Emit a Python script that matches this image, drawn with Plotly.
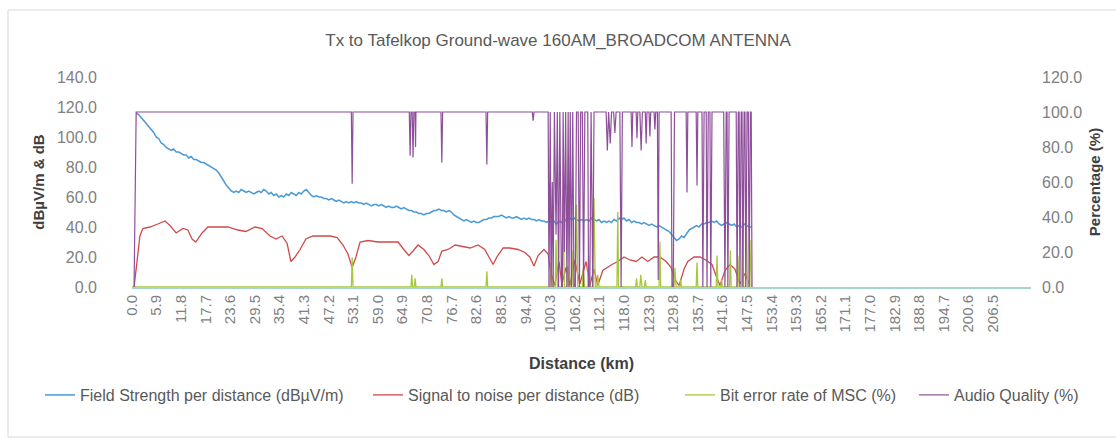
import plotly.graph_objects as go

# ---- Field strength (dBuV/m) along the route ----
fs_km = [1.0, 1.6, 2.2, 2.8, 3.4, 4.0, 4.6, 5.2, 5.8, 6.4, 7.0, 7.6, 8.2, 8.8, 9.4, 10.0, 10.6, 11.2, 11.8, 12.4,
         13.0, 13.6, 14.2, 14.8, 15.4, 16.0, 16.6, 17.2, 17.8, 18.4, 19.0, 19.6, 20.2, 20.8, 21.4, 22.0, 22.6, 23.2,
         23.8, 24.4, 25.0, 25.6, 26.2, 26.8, 27.4, 28.0, 28.6, 29.2, 29.8, 30.4, 31.0, 31.6, 32.2, 32.8, 33.4, 34.0,
         34.6, 35.2, 35.8, 36.4, 37.0, 37.6, 38.2, 38.8, 39.4, 40.0, 40.6, 41.2, 41.8, 42.4, 43.0, 43.6, 44.2, 44.8,
         45.4, 46.0, 46.6, 47.2, 47.8, 48.4, 49.0, 49.6, 50.2, 50.8, 51.4, 52.0, 52.6, 53.2, 53.8, 54.4, 55.0, 55.6,
         56.2, 56.8, 57.4, 58.0, 58.6, 59.2, 59.8, 60.4, 61.0, 61.6, 62.2, 62.8, 63.4, 64.0, 64.6, 65.2, 65.8, 66.4,
         67.0, 67.6, 68.2, 68.8, 69.4, 70.0, 70.6, 71.2, 71.8, 72.4, 73.0, 73.6, 74.2, 74.8, 75.4, 76.0, 76.6, 77.2,
         77.8, 78.4, 79.0, 79.6, 80.2, 80.8, 81.4, 82.0, 82.6, 83.2, 83.8, 84.4, 85.0, 85.6, 86.2, 86.8, 87.4, 88.0,
         88.6, 89.2, 89.8, 90.4, 91.0, 91.6, 92.2, 92.8, 93.4, 94.0, 94.6, 95.2, 95.8, 96.4, 97.0, 97.6, 98.2, 98.8,
         99.4, 100.0, 100.6, 101.2, 101.8, 102.4, 103.0, 103.6, 104.2, 104.8, 105.4, 106.0, 106.6, 107.2, 107.8,
         108.4, 109.0, 109.6, 110.2, 110.8, 111.4, 112.0, 112.6, 113.2, 113.8, 114.4, 115.0, 115.6, 116.2, 116.8,
         117.4, 118.0, 118.6, 119.2, 119.8, 120.4, 121.0, 121.6, 122.2, 122.8, 123.4, 124.0, 124.6, 125.2, 125.8,
         126.4, 127.0, 127.6, 128.2, 128.8, 129.4, 130.0, 130.6, 131.2, 131.8, 132.4, 133.0, 133.6, 134.2, 134.8,
         135.4, 136.0, 136.6, 137.2, 137.8, 138.4, 139.0, 139.6, 140.2, 140.8, 141.4, 142.0, 142.6, 143.2, 143.8,
         144.4, 145.0, 145.6, 146.2, 146.8, 147.4, 148.0, 148.6]
fs_val = [116, 115, 113, 111, 109, 107, 105, 103, 100, 99, 96, 95, 93, 92, 91, 92, 90, 90, 89, 88,
          88, 86, 87, 85, 85, 84, 83, 83, 82, 81, 80, 79, 78, 76, 73, 70, 68, 66,
          64, 63, 64, 63, 65, 64, 63, 64, 63, 62, 63, 64, 63, 65, 64, 62, 63, 61,
          62, 60, 61, 60, 62, 61, 63, 62, 61, 63, 62, 64, 65, 63, 61, 60, 61, 60,
          60, 59, 59, 58, 59, 58, 57, 58, 57, 56, 57, 56, 57, 56, 57, 56, 56, 55,
          56, 55, 54, 55, 55, 54, 55, 54, 53, 54, 53, 53, 54, 53, 52, 53, 52, 51,
          51, 50, 50, 49, 49, 48, 49, 49, 50, 51, 51, 52, 51, 51, 50, 51, 50, 48,
          47, 46, 45, 44, 45, 44, 43, 44, 43, 43, 44, 45, 45, 46, 46, 47, 47, 47,
          48, 47, 46, 47, 46, 46, 47, 46, 45, 46, 45, 46, 45, 45, 44, 45, 44, 44,
          43, 44, 43, 44, 42, 44, 43, 45, 44, 46, 45, 46, 45, 44, 45,
          44, 45, 44, 46, 45, 44, 45, 43, 44, 43, 44, 43, 45, 44, 46,
          45, 46, 44, 45, 43, 44, 43, 43, 42, 43, 42, 41, 42, 41, 40,
          41, 40, 39, 38, 37, 35, 33, 31, 32, 34, 33, 36, 38, 39, 40,
          41, 40, 42, 42, 43, 43, 44, 43, 44, 42, 41, 42, 43, 42, 41,
          42, 40, 41, 40, 42, 41, 40, 40]

# ---- Signal to noise (dB) ----
snr_km = [0.5, 1.2, 1.9, 2.6, 4.3, 6.2, 7.9, 9.1, 10.6, 12.2, 13.4, 14.4, 15.3, 16.8, 18.2, 20.6, 23.0, 25.4,
          27.3, 29.5, 31.2, 33.1, 34.5, 36.0, 37.2, 38.1, 39.1, 40.3, 41.7, 43.4, 45.6, 47.5, 49.2, 50.6, 51.8,
          52.8, 53.7, 54.7, 56.6, 59.0, 61.9, 63.8, 65.2, 66.4, 67.4, 68.6, 70.0, 71.2, 72.4, 73.4, 74.3, 75.8,
          77.5, 79.4, 81.1, 83.0, 84.6, 85.6, 86.6, 87.5, 89.0, 90.6, 92.6, 94.2, 95.4, 96.4, 97.4, 98.8, 99.8,
          100.5, 101.4, 102.4, 103.1, 104.1, 105.0, 106.2, 107.4, 108.9, 109.8, 110.8, 111.7, 112.9, 113.9,
          115.1, 116.5, 118.0, 119.4, 120.9, 122.3, 123.7, 125.2, 126.6, 128.1, 129.3, 130.2, 131.2, 132.4,
          133.3, 134.8, 136.2, 137.6, 139.1, 140.0, 141.0, 142.2, 143.4, 144.6, 145.8, 147.0, 148.2]
snr_val = [0, 17, 34, 39, 40, 42, 44, 41, 36, 39, 38, 32, 30, 36, 40, 40, 40, 38,
           37, 40, 39, 34, 32, 34, 29, 17, 20, 25, 32, 34, 34, 34, 33, 28, 22,
           13, 20, 30, 31, 30, 30, 30, 25, 21, 24, 28, 25, 21, 15, 17, 24, 25,
           28, 27, 26, 28, 25, 20, 15, 20, 26, 26, 25, 23, 20, 14, 21, 25, 22,
           9, 1, 17, 2, 13, 1, 18, 2, 17, 1, 12, 1, 11, 13,
           15, 17, 20, 18, 17, 20, 17, 20, 20, 17, 13, 5, 1, 12,
           17, 20, 20, 18, 15, 8, 1, 11, 15, 12, 2, 9, 1]

# ---- Bit error rate of MSC (%) ----
ber_km = [0.0, 52.6, 52.8, 53.0, 66.9, 67.1, 67.3, 67.7, 67.9, 68.1, 74.1, 74.3, 74.5, 84.9, 85.1, 85.3,
          100.2, 100.5, 100.8, 101.5, 101.7, 102.0, 103.2, 103.4, 103.7, 104.3, 104.5, 104.8, 105.3, 105.5,
          105.8, 106.3, 106.6, 106.9, 108.0, 108.2, 108.5, 109.3, 109.5, 109.8, 110.5, 110.8, 111.1, 111.5,
          111.7, 112.0, 116.3, 116.5, 116.7, 120.8, 121.0, 121.2, 121.8, 122.0, 122.3, 122.9, 123.1, 123.3,
          126.4, 126.6, 126.8, 130.0, 130.2, 130.5, 131.4, 131.6, 131.8, 135.3, 135.5, 135.7, 140.1, 140.3,
          140.5, 141.2, 141.4, 141.6, 143.3, 143.5, 143.7, 145.1, 145.3, 145.6, 146.2, 146.4, 146.6, 147.1,
          147.3, 147.6, 148.0, 148.2, 148.5]
ber_val = [0, 0, 17, 0, 0, 7, 0, 0, 5, 0, 0, 5, 0, 0, 9, 0,
           0, 14, 0, 0, 27, 0, 0, 51, 0, 0, 12, 0, 0, 21,
           0, 0, 47, 0, 0, 11, 0, 0, 18, 0, 0, 51, 0, 0,
           7, 0, 0, 43, 0, 0, 5, 0, 0, 7, 0, 0, 4, 0,
           0, 26, 0, 0, 11, 0, 0, 4, 0, 0, 14, 0, 0, 18,
           0, 0, 4, 0, 0, 21, 0, 0, 18, 0, 0, 37, 0, 0,
           47, 0, 0, 27, 0]

# ---- Audio quality (%) ----
aq_km = [0.5, 1.0, 52.6, 52.8, 53.0, 66.5, 66.7, 66.9, 67.2, 67.4, 67.6, 67.9, 68.0, 68.1, 74.1, 74.3, 74.5,
         84.9, 85.1, 85.3, 96.0, 96.2, 96.4,
         99.8, 100.0, 100.3, 100.5, 100.8, 101.0, 101.3, 101.7, 102.0, 102.3, 102.6, 103.0, 103.2, 103.4,
         103.7, 104.0, 104.3, 104.6, 104.8, 105.1, 105.4, 105.7, 106.0, 106.3, 106.6, 107.0, 107.3, 107.6,
         108.0, 108.3, 108.6, 109.3, 109.5, 109.8, 110.1, 110.5, 110.8, 113.7, 114.0, 114.3, 114.7, 115.0,
         115.5, 115.8, 116.1, 117.0, 117.3, 117.6, 119.7, 119.9, 120.1, 120.9, 121.1, 121.3, 121.8, 122.1,
         122.4, 123.1, 123.3, 123.5, 124.0, 124.2, 124.4, 125.2, 125.4, 125.6, 126.0, 126.2, 126.4, 129.3,
         129.5, 129.8, 130.1, 132.9, 133.1, 133.3, 135.3, 135.5, 135.7, 136.7, 136.9, 137.2, 137.7, 137.9,
         138.2, 138.6, 138.8, 139.1, 141.9, 142.2, 142.5, 142.7, 142.9, 143.2, 144.9, 145.1, 145.4, 145.6,
         145.8, 146.1, 146.3, 146.5, 146.8, 147.0, 147.2, 147.5, 147.8, 148.0, 148.3, 148.5, 148.7]
aq_val = [0, 100, 100, 59, 100, 100, 75, 100, 100, 74, 100, 100, 80, 100, 100, 71, 100,
          100, 70, 100, 100, 95, 100,
          100, 0, 100, 0, 60, 0, 100, 30, 100, 0, 100, 0, 0, 100,
          20, 100, 0, 100, 0, 100, 0, 100, 0, 0, 100, 100, 0, 100,
          100, 0, 100, 100, 0, 0, 100, 0, 100, 100, 78, 100, 82, 100,
          100, 88, 100, 100, 0, 100, 100, 80, 100, 100, 85, 100, 100, 78,
          100, 100, 82, 100, 100, 86, 100, 100, 90, 100, 100, 4, 100, 100,
          0, 0, 100, 100, 54, 100, 100, 58, 100, 100, 0, 100, 100, 0,
          100, 100, 0, 100, 100, 0, 100, 100, 0, 100, 100, 0, 100, 100,
          0, 100, 100, 0, 100, 100, 0, 100, 100, 0, 100, 100, 0]

# ---- Category labels shown on the distance axis ----
dist_labels = ["0.0", "5.9", "11.8", "17.7", "23.6", "29.5", "35.4", "41.3", "47.2", "53.1", "59.0", "64.9",
               "70.8", "76.7", "82.6", "88.5", "94.4", "100.3", "106.2", "112.1", "118.0", "123.9", "129.8",
               "135.7", "141.6", "147.5", "153.4", "159.3", "165.2", "171.1", "177.0", "182.9", "188.8",
               "194.7", "200.6", "206.5"]
dist_ticks = [float(s) for s in dist_labels]

FONT = "Liberation Sans"
TICK_GREY = "#808080"
W, H = 1116, 443

fig = go.Figure()
fig.add_trace(go.Scatter(x=fs_km, y=fs_val, mode="lines", name="Field Strength per distance (dBµV/m)",
                         line=dict(color="#4a9ad8", width=1.5), legend="legend"))
fig.add_trace(go.Scatter(x=snr_km, y=snr_val, mode="lines", name="Signal to noise per distance (dB)",
                         line=dict(color="#d04a4a", width=1.3), legend="legend2"))
fig.add_trace(go.Scatter(x=ber_km, y=ber_val, mode="lines", name="Bit error rate of MSC (%)",
                         line=dict(color="#a8c83c", width=1.3), yaxis="y2", legend="legend3"))
fig.add_trace(go.Scatter(x=aq_km, y=aq_val, mode="lines", name="Audio Quality (%)",
                         line=dict(color="#8e4f9a", width=1.2), yaxis="y2", legend="legend4"))


def legend_box(left_px):
    # one single-entry legend per series, laid out along the bottom row
    return dict(orientation="h", xref="container", x=left_px / W, xanchor="left",
                yref="container", y=1 - 395 / H, yanchor="middle",
                font=dict(family=FONT, size=16, color="#595959"),
                bgcolor="rgba(0,0,0,0)")


fig.update_layout(
    width=W, height=H,
    margin=dict(l=132, r=85, t=77, b=156, autoexpand=False),
    paper_bgcolor="white", plot_bgcolor="white",
    font=dict(family=FONT, color=TICK_GREY),
    title=dict(text="Tx to Tafelkop Ground-wave 160AM_BROADCOM ANTENNA",
               font=dict(family=FONT, size=17, color="#595959"),
               x=0.5, xanchor="center", y=1 - 40 / H, yanchor="middle"),
    showlegend=True,
    legend=legend_box(40),
    legend2=legend_box(368),
    legend3=legend_box(680),
    legend4=legend_box(914),
    xaxis=dict(range=[0, 215.6], tickmode="array", tickvals=dist_ticks, ticktext=dist_labels,
               tickangle=-90, tickfont=dict(size=15, color=TICK_GREY), showgrid=False, zeroline=False,
               showline=True, linecolor="#a6d6cb", linewidth=2, ticks="",
               title=dict(text="<b>Distance (km)</b>", font=dict(size=16, color="#404040"), standoff=26)),
    yaxis=dict(range=[0, 140], dtick=20, tickformat=".1f", showgrid=False, zeroline=False,
               tickfont=dict(size=16, color=TICK_GREY), ticklabelstandoff=34,
               title=dict(text="<b>dBµV/m & dB</b>", font=dict(size=15, color="#404040"), standoff=8)),
    yaxis2=dict(range=[0, 120], dtick=20, tickformat=".1f", overlaying="y", side="right",
                showgrid=False, zeroline=False, tickfont=dict(size=16, color=TICK_GREY),
                ticklabelstandoff=10,
                title=dict(text="<b>Percentage (%)</b>", font=dict(size=15, color="#404040"), standoff=8)),
    shapes=[dict(type="rect", xref="paper", yref="paper", x0=-124 / 899, x1=1099 / 899,
                 y0=-150 / 210, y1=277 / 210, line=dict(color="#d9d9d9", width=1))],
)

fig.write_html("out.html")
